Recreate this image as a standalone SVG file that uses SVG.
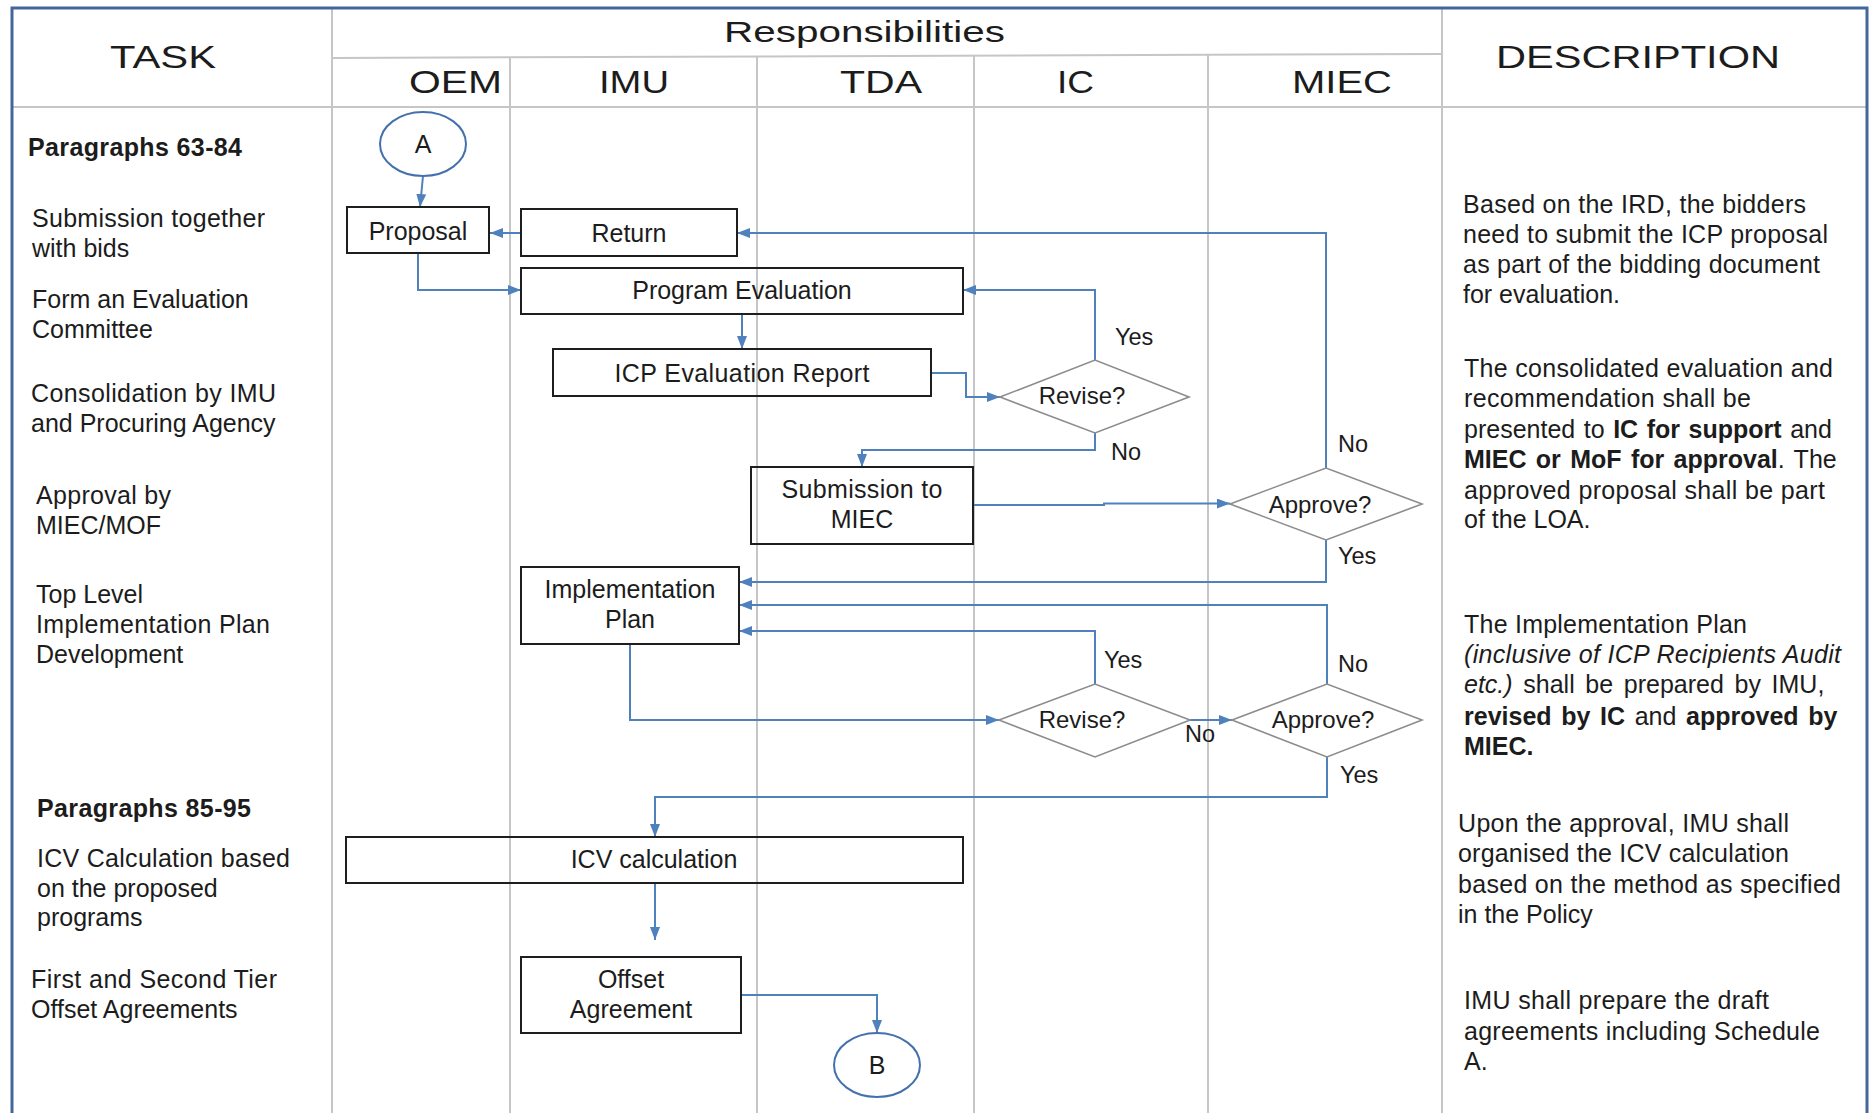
<svg xmlns="http://www.w3.org/2000/svg" width="1872" height="1113" viewBox="0 0 1872 1113">
<style>
text{font-family:"Liberation Sans",Arial,sans-serif;fill:#1c1c1c}
.hdr{font-size:32px}
.rs{font-size:30px}
.t{font-size:25px}
.c{text-anchor:middle}
.lb{font-size:23.5px}
.dt{font-size:24px;text-anchor:middle}
.b{font-weight:bold}
.i{font-style:italic}
.grid{stroke:#c6c6c6;stroke-width:2;fill:none}
.frame{stroke:#44679b;stroke-width:3;fill:none}
.box{stroke:#1e1e1e;stroke-width:2;fill:none}
.dia{stroke:#8c8c8c;stroke-width:1.6;fill:none}
.circ{stroke:#4471ae;stroke-width:2;fill:none}
.conn{stroke:#4f81bd;stroke-width:2;fill:none;marker-end:url(#ah)}
</style>
<defs>
<marker id="ah" viewBox="0 0 13 10" refX="13" refY="5" markerWidth="13" markerHeight="10" markerUnits="userSpaceOnUse" orient="auto">
<path d="M0,0 L13,5 L0,10 z" fill="#4f81bd"/>
</marker>
</defs>
<rect width="1872" height="1113" fill="#ffffff"/>
<g id="grid">
<line class="grid" x1="12" y1="107" x2="1867" y2="107"/>
<line class="grid" x1="332" y1="58" x2="1441" y2="54"/>
<line class="grid" x1="332" y1="8" x2="332" y2="1113"/>
<line class="grid" x1="510" y1="58" x2="510" y2="1113"/>
<line class="grid" x1="757" y1="57" x2="757" y2="1113"/>
<line class="grid" x1="974" y1="55" x2="974" y2="1113"/>
<line class="grid" x1="1208" y1="55" x2="1208" y2="1113"/>
<line class="grid" x1="1442" y1="8" x2="1442" y2="1113"/>
<path class="frame" d="M12,1113 V8 H1867 V1113"/>
</g>
<g id="headers">
<text class="hdr" x="110" y="68" textLength="106" lengthAdjust="spacingAndGlyphs">TASK</text>
<text class="rs" x="724" y="42" textLength="281" lengthAdjust="spacingAndGlyphs">Responsibilities</text>
<text class="hdr" x="409" y="93" textLength="93" lengthAdjust="spacingAndGlyphs">OEM</text>
<text class="hdr" x="599" y="93" textLength="70" lengthAdjust="spacingAndGlyphs">IMU</text>
<text class="hdr" x="840" y="93" textLength="82" lengthAdjust="spacingAndGlyphs">TDA</text>
<text class="hdr" x="1057" y="93" textLength="37" lengthAdjust="spacingAndGlyphs">IC</text>
<text class="hdr" x="1292" y="93" textLength="100" lengthAdjust="spacingAndGlyphs">MIEC</text>
<text class="hdr" x="1496" y="68" textLength="284" lengthAdjust="spacingAndGlyphs">DESCRIPTION</text>
</g>
<g id="tasks">
<text class="t b" x="28" y="156" textLength="214" lengthAdjust="spacing">Paragraphs 63-84</text>
<text class="t" x="32" y="227" textLength="233" lengthAdjust="spacing">Submission together</text>
<text class="t" x="32" y="257">with bids</text>
<text class="t" x="32" y="308">Form an Evaluation</text>
<text class="t" x="32" y="338">Committee</text>
<text class="t" x="31" y="402" textLength="245" lengthAdjust="spacing">Consolidation by IMU</text>
<text class="t" x="31" y="432">and Procuring Agency</text>
<text class="t" x="36" y="504" textLength="135" lengthAdjust="spacing">Approval by</text>
<text class="t" x="36" y="534">MIEC/MOF</text>
<text class="t" x="36" y="603">Top Level</text>
<text class="t" x="36" y="633" textLength="234" lengthAdjust="spacing">Implementation Plan</text>
<text class="t" x="36" y="663">Development</text>
<text class="t b" x="37" y="817" textLength="214" lengthAdjust="spacing">Paragraphs 85-95</text>
<text class="t" x="37" y="867" textLength="253" lengthAdjust="spacing">ICV Calculation based</text>
<text class="t" x="37" y="897">on the proposed</text>
<text class="t" x="37" y="926">programs</text>
<text class="t" x="31" y="988" textLength="246" lengthAdjust="spacing">First and Second Tier</text>
<text class="t" x="31" y="1018">Offset Agreements</text>
</g>
<g id="description">
<text class="t" x="1463" y="213" textLength="343" lengthAdjust="spacing">Based on the IRD, the bidders</text>
<text class="t" x="1463" y="243" textLength="365" lengthAdjust="spacing">need to submit the ICP proposal</text>
<text class="t" x="1463" y="273" textLength="357" lengthAdjust="spacing">as part of the bidding document</text>
<text class="t" x="1463" y="303">for evaluation.</text>
<text class="t" x="1464" y="377" textLength="369" lengthAdjust="spacing">The consolidated evaluation and</text>
<text class="t" x="1464" y="407" textLength="287" lengthAdjust="spacing">recommendation shall be</text>
<text class="t" x="1464" y="438" word-spacing="1.6">presented to <tspan class="b">IC for support</tspan> and</text>
<text class="t" x="1464" y="468" word-spacing="2.4"><tspan class="b">MIEC or MoF for approval</tspan>. The</text>
<text class="t" x="1464" y="499" textLength="361" lengthAdjust="spacing">approved proposal shall be part</text>
<text class="t" x="1464" y="528">of the LOA.</text>
<text class="t" x="1464" y="633" textLength="283" lengthAdjust="spacing">The Implementation Plan</text>
<text class="t i" x="1464" y="663" textLength="377" lengthAdjust="spacing">(inclusive of ICP Recipients Audit</text>
<text class="t" x="1464" y="693" word-spacing="3.7"><tspan class="i">etc.)</tspan> shall be prepared by IMU,</text>
<text class="t" x="1464" y="725" word-spacing="2.7"><tspan class="b">revised by IC</tspan> and <tspan class="b">approved by</tspan></text>
<text class="t b" x="1464" y="755">MIEC.</text>
<text class="t" x="1458" y="832" textLength="331" lengthAdjust="spacing">Upon the approval, IMU shall</text>
<text class="t" x="1458" y="862" textLength="331" lengthAdjust="spacing">organised the ICV calculation</text>
<text class="t" x="1458" y="893" textLength="383" lengthAdjust="spacing">based on the method as specified</text>
<text class="t" x="1458" y="923">in the Policy</text>
<text class="t" x="1464" y="1009" textLength="305" lengthAdjust="spacing">IMU shall prepare the draft</text>
<text class="t" x="1464" y="1040" textLength="356" lengthAdjust="spacing">agreements including Schedule</text>
<text class="t" x="1464" y="1070">A.</text>
</g>
<g id="connectors">
<path class="conn" d="M423,176 L420,207"/>
<path class="conn" d="M521,233 H490"/>
<path class="conn" d="M418,253 V290 H521"/>
<path class="conn" d="M742,314 V349"/>
<path class="conn" d="M931,373 H966 V397 H1000"/>
<path class="conn" d="M1095,360 V290 H963"/>
<path class="conn" d="M1095,433 V450 H862 V467"/>
<path class="conn" d="M973,505 H1104 V503.5 H1230"/>
<path class="conn" d="M1326,468 V233 H737"/>
<path class="conn" d="M1326,540 V582 H739"/>
<path class="conn" d="M630,644 V720 H999"/>
<path class="conn" d="M1095,684 V631 H739"/>
<path class="conn" d="M1190,720 H1232"/>
<path class="conn" d="M1327,684 V605 H739"/>
<path class="conn" d="M1327,757 V797 H655 V837"/>
<path class="conn" d="M655,883 V940"/>
<path class="conn" d="M742,995 H877 V1033"/>
</g>
<g id="labels">
<text class="lb" x="1115" y="345">Yes</text>
<text class="lb" x="1111" y="460">No</text>
<text class="lb" x="1338" y="452">No</text>
<text class="lb" x="1338" y="564">Yes</text>
<text class="lb" x="1104" y="668">Yes</text>
<text class="lb" x="1185" y="742">No</text>
<text class="lb" x="1338" y="672">No</text>
<text class="lb" x="1340" y="783">Yes</text>
</g>
<g id="node-A">
<ellipse class="circ" cx="423" cy="144" rx="43" ry="32"/>
<text class="t c" x="423" y="153">A</text>
</g>
<g id="node-proposal">
<rect class="box" x="347" y="207" width="142" height="46"/>
<text class="t c" x="418" y="240">Proposal</text>
</g>
<g id="node-return">
<rect class="box" x="521" y="209" width="216" height="47"/>
<text class="t c" x="629" y="242">Return</text>
</g>
<g id="node-program-evaluation">
<rect class="box" x="521" y="268" width="442" height="46"/>
<text class="t c" x="742" y="299">Program Evaluation</text>
</g>
<g id="node-icp-report">
<rect class="box" x="553" y="349" width="378" height="47"/>
<text class="t c" x="742" y="382" textLength="255" lengthAdjust="spacing">ICP Evaluation Report</text>
</g>
<g id="node-revise-1">
<polygon class="dia" points="1000,397 1095,360 1189,397 1095,433"/>
<text class="dt" x="1082" y="404">Revise?</text>
</g>
<g id="node-submission">
<rect class="box" x="751" y="467" width="222" height="77"/>
<text class="t c" x="862" y="498" textLength="161" lengthAdjust="spacing">Submission to</text>
<text class="t c" x="862" y="528">MIEC</text>
</g>
<g id="node-approve-1">
<polygon class="dia" points="1230,504 1326,468 1422,504 1326,540"/>
<text class="dt" x="1320" y="513">Approve?</text>
</g>
<g id="node-implementation-plan">
<rect class="box" x="521" y="567" width="218" height="77"/>
<text class="t c" x="630" y="598">Implementation</text>
<text class="t c" x="630" y="628">Plan</text>
</g>
<g id="node-revise-2">
<polygon class="dia" points="999,720 1095,684 1190,720 1095,757"/>
<text class="dt" x="1082" y="728">Revise?</text>
</g>
<g id="node-approve-2">
<polygon class="dia" points="1232,720 1327,684 1422,720 1327,757"/>
<text class="dt" x="1323" y="728">Approve?</text>
</g>
<g id="node-icv">
<rect class="box" x="346" y="837" width="617" height="46"/>
<text class="t c" x="654" y="868">ICV calculation</text>
</g>
<g id="node-offset">
<rect class="box" x="521" y="957" width="220" height="76"/>
<text class="t c" x="631" y="988">Offset</text>
<text class="t c" x="631" y="1018">Agreement</text>
</g>
<g id="node-B">
<ellipse class="circ" cx="877" cy="1065" rx="43" ry="32"/>
<text class="t c" x="877" y="1074">B</text>
</g>
</svg>
